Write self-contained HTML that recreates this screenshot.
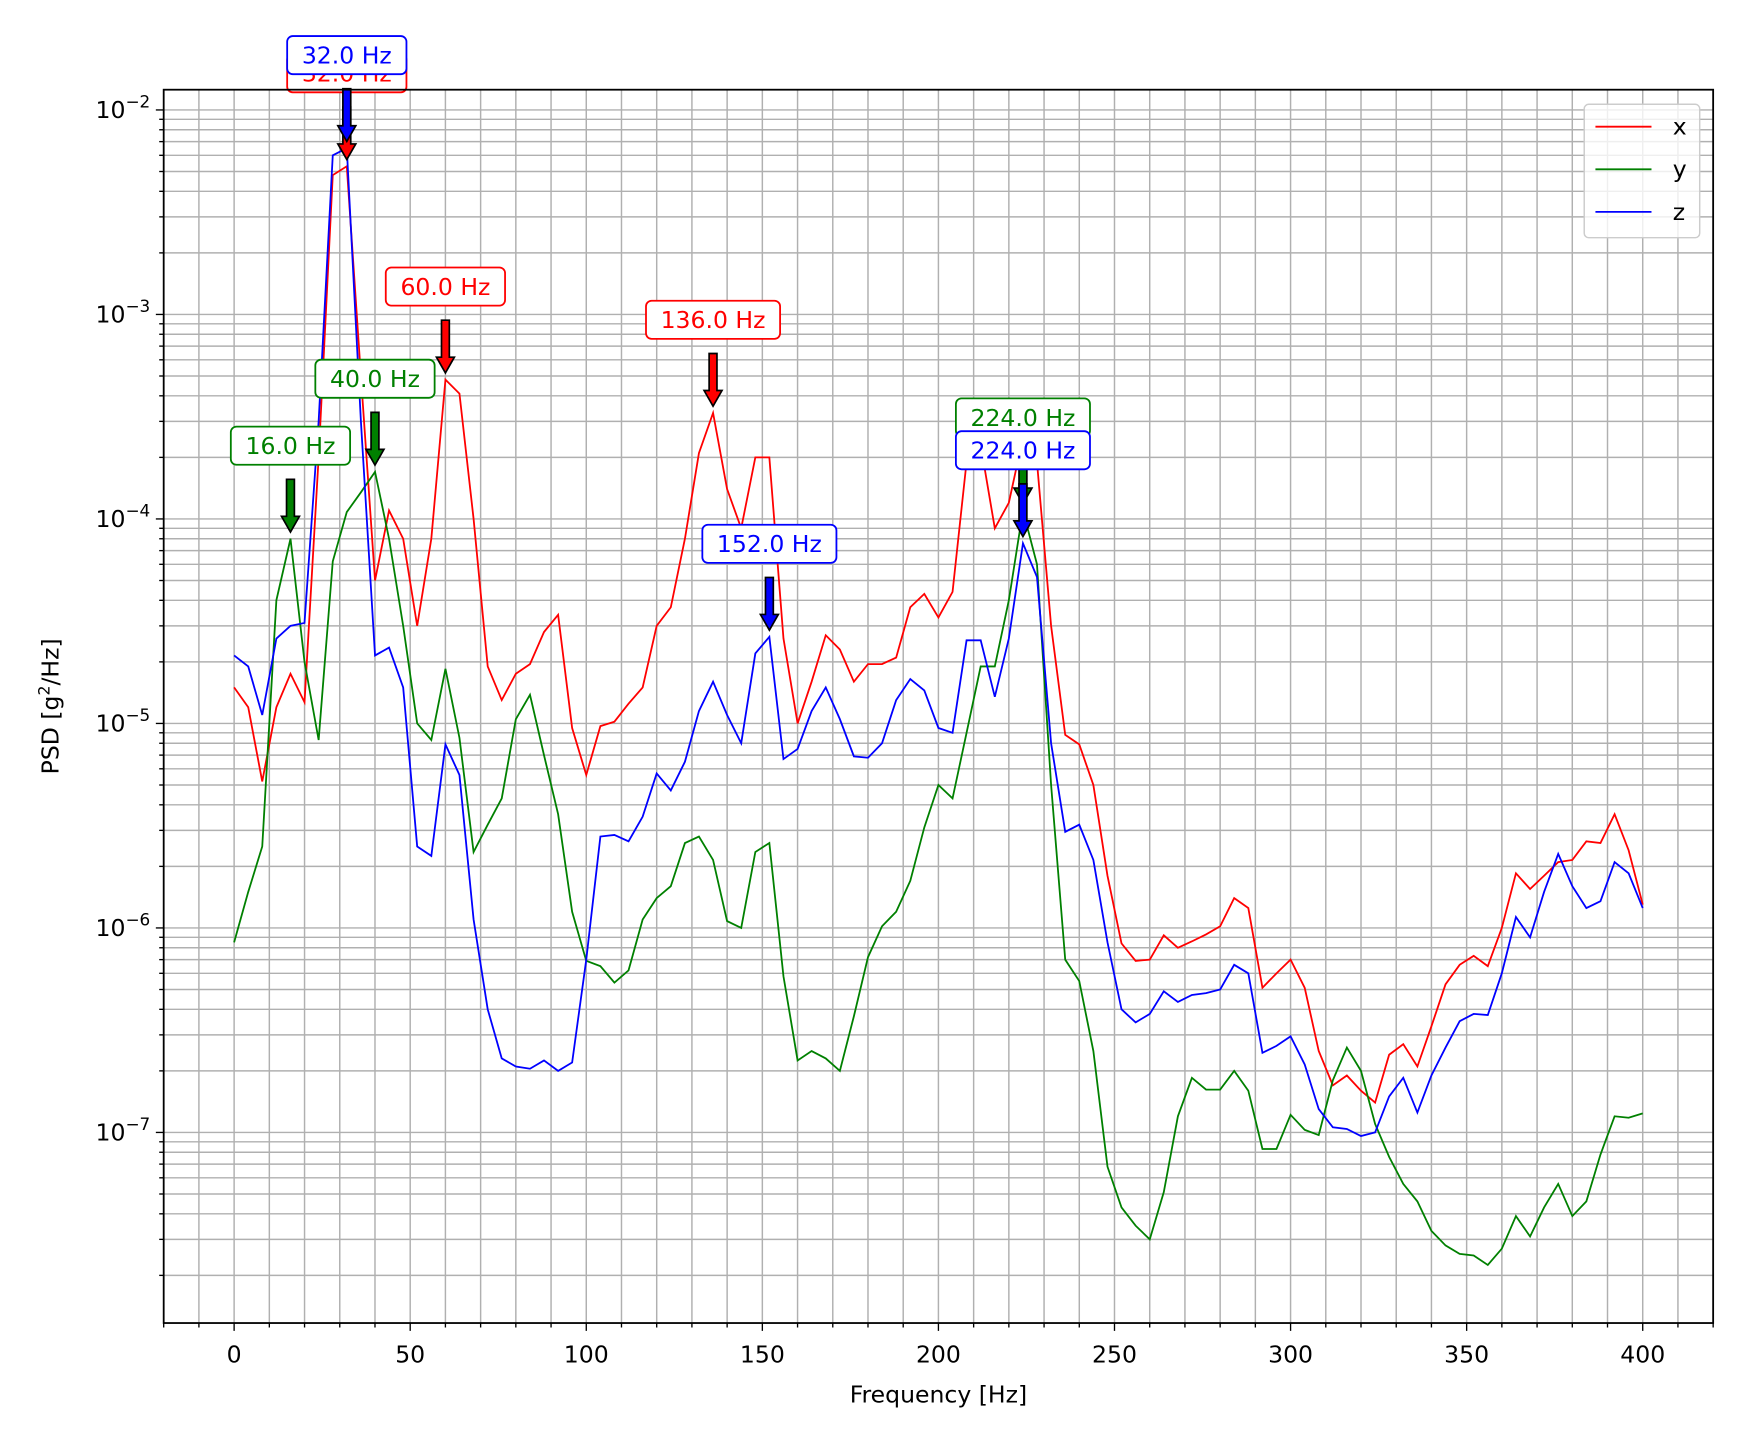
<!DOCTYPE html>
<html><head><meta charset="utf-8"><style>
html,body{margin:0;padding:0;background:#fff;}
svg{display:block;font-family:"DejaVu Sans","Liberation Sans",sans-serif;}
</style></head><body>
<svg id="chart" width="1758" height="1443" viewBox="0 0 1568 1287" preserveAspectRatio="none" xmlns="http://www.w3.org/2000/svg">
<rect x="0" y="0" width="1568" height="1287" fill="#fff"/>
<g id="grid"></g>
<g id="series"></g>
<g id="annots"></g>
<rect x="146" y="80" width="1382" height="1100" fill="none" stroke="#000" stroke-width="1.6"/>
<g id="ticks"></g>
<text x="837" y="1251" font-size="21" text-anchor="middle">Frequency [Hz]</text>
<text transform="translate(52,630) rotate(-90)" font-size="21" text-anchor="middle">PSD [g<tspan baseline-shift="super" font-size="14">2</tspan>/Hz]</text>
<g>
<rect x="1413" y="93" width="103" height="119" rx="4" fill="#fff" fill-opacity="0.8" stroke="#ccc" stroke-width="1.3"/>
<line x1="1423" y1="113" x2="1473" y2="113" stroke="red" stroke-width="1.6"/>
<text x="1492" y="120" font-size="21">x</text>
<line x1="1423" y1="151" x2="1473" y2="151" stroke="green" stroke-width="1.6"/>
<text x="1492" y="158" font-size="21">y</text>
<line x1="1423" y1="189" x2="1473" y2="189" stroke="blue" stroke-width="1.6"/>
<text x="1492" y="196" font-size="21">z</text>
</g>
</svg>
<script>
const freqs = Array.from({length:101},(_, i)=>i*4);
const xVals = [1.5e-5,1.2e-5,5.2e-6,1.2e-5,1.75e-5,1.27e-5,2e-4,4.8e-3,5.3e-3,5e-4,5e-5,1.1e-4,8e-5,3e-5,8e-5,4.8e-4,4.1e-4,1e-4,1.9e-5,1.3e-5,1.75e-5,1.95e-5,2.8e-5,3.4e-5,9.5e-6,5.6e-6,9.7e-6,1.02e-5,1.25e-5,1.5e-5,3e-5,3.7e-5,8e-5,2.1e-4,3.3e-4,1.4e-4,9e-5,2e-4,2e-4,2.6e-5,1e-5,1.6e-5,2.7e-5,2.3e-5,1.6e-5,1.95e-5,1.95e-5,2.1e-5,3.7e-5,4.3e-5,3.3e-5,4.4e-5,1.9e-4,2.3e-4,9e-5,1.2e-4,2.5e-4,1.9e-4,3e-5,8.8e-6,7.9e-6,5e-6,1.8e-6,8.4e-7,6.9e-7,7e-7,9.2e-7,8e-7,8.6e-7,9.3e-7,1.02e-6,1.4e-6,1.25e-6,5.1e-7,6e-7,7e-7,5.1e-7,2.5e-7,1.7e-7,1.9e-7,1.6e-7,1.4e-7,2.4e-7,2.7e-7,2.1e-7,3.3e-7,5.3e-7,6.6e-7,7.3e-7,6.5e-7,1e-6,1.85e-6,1.55e-6,1.8e-6,2.1e-6,2.15e-6,2.65e-6,2.6e-6,3.6e-6,2.4e-6,1.3e-6];
const yVals = [8.5e-7,1.5e-6,2.5e-6,4e-5,8e-5,2e-5,8.3e-6,6.2e-5,1.08e-4,1.35e-4,1.7e-4,8e-5,3e-5,1e-5,8.3e-6,1.85e-5,8.5e-6,2.35e-6,3.2e-6,4.3e-6,1.05e-5,1.38e-5,7e-6,3.6e-6,1.2e-6,6.9e-7,6.5e-7,5.4e-7,6.2e-7,1.1e-6,1.4e-6,1.6e-6,2.6e-6,2.8e-6,2.15e-6,1.08e-6,1e-6,2.35e-6,2.6e-6,5.8e-7,2.25e-7,2.5e-7,2.3e-7,2e-7,3.7e-7,7.2e-7,1.02e-6,1.2e-6,1.7e-6,3.1e-6,5e-6,4.3e-6,9e-6,1.9e-5,1.9e-5,4e-5,1.1e-4,6e-5,5e-6,7e-7,5.5e-7,2.5e-7,6.8e-8,4.3e-8,3.5e-8,3e-8,5.1e-8,1.2e-7,1.85e-7,1.62e-7,1.62e-7,2e-7,1.6e-7,8.3e-8,8.3e-8,1.22e-7,1.03e-7,9.7e-8,1.8e-7,2.6e-7,2e-7,1.1e-7,7.6e-8,5.6e-8,4.6e-8,3.3e-8,2.8e-8,2.55e-8,2.5e-8,2.25e-8,2.7e-8,3.9e-8,3.1e-8,4.3e-8,5.6e-8,3.9e-8,4.6e-8,7.8e-8,1.2e-7,1.18e-7,1.24e-7];
const zVals = [2.15e-5,1.9e-5,1.1e-5,2.6e-5,3e-5,3.1e-5,3e-4,6e-3,6.5e-3,3e-4,2.15e-5,2.35e-5,1.5e-5,2.5e-6,2.25e-6,7.9e-6,5.6e-6,1.1e-6,4e-7,2.3e-7,2.1e-7,2.05e-7,2.25e-7,2e-7,2.2e-7,7e-7,2.8e-6,2.85e-6,2.65e-6,3.5e-6,5.7e-6,4.7e-6,6.5e-6,1.15e-5,1.6e-5,1.1e-5,8e-6,2.2e-5,2.65e-5,6.7e-6,7.5e-6,1.15e-5,1.5e-5,1.05e-5,6.9e-6,6.8e-6,8e-6,1.3e-5,1.65e-5,1.45e-5,9.5e-6,9e-6,2.55e-5,2.55e-5,1.35e-5,2.6e-5,7.6e-5,5.2e-5,8e-6,2.95e-6,3.2e-6,2.15e-6,8.5e-7,4e-7,3.45e-7,3.8e-7,4.9e-7,4.35e-7,4.7e-7,4.8e-7,5e-7,6.6e-7,6e-7,2.45e-7,2.65e-7,2.95e-7,2.15e-7,1.3e-7,1.06e-7,1.04e-7,9.6e-8,1e-7,1.5e-7,1.85e-7,1.25e-7,1.9e-7,2.6e-7,3.5e-7,3.8e-7,3.75e-7,6e-7,1.13e-6,9e-7,1.5e-6,2.3e-6,1.6e-6,1.25e-6,1.35e-6,2.1e-6,1.85e-6,1.25e-6];
const xPeaks = [32,60,136];
const yPeaks = [16,40,224];
const zPeaks = [32,152,224];
const xTickLabels = [0,50,100,150,200,250,300,350,400];
const yTickExps = [-7,-6,-5,-4,-3,-2];

const NS="http://www.w3.org/2000/svg";
const L=146,R=1528,T=80,B=1180;
const xMin=-20,xMax=420;
const ly0=-7.932,ly1=-1.901;
function X(f){return L+(f-xMin)/(xMax-xMin)*(R-L);}
function Y(v){return B-(Math.log10(v)-ly0)/(ly1-ly0)*(B-T);}
function mk(tag,attrs,parent){const e=document.createElementNS(NS,tag);for(const k in attrs)e.setAttribute(k,attrs[k]);parent.appendChild(e);return e;}
const grid=document.getElementById('grid'),ticks=document.getElementById('ticks');
for(let f=-20;f<=420;f+=10){
  const x=X(f);
  const g=mk('line',{x1:x,y1:T,x2:x,y2:B,stroke:'#b0b0b0','stroke-width':1.3},grid);
  
  
  const major=f%50===0&&f>=0&&f<=400;
  const t=mk('line',{x1:x,y1:B,x2:x,y2:B+(major?7:4),stroke:'#000','stroke-width':1.2},ticks);
  
  
}
xTickLabels.forEach(v=>{
  const t=mk('text',{x:X(v),y:B+35,'font-size':21,'text-anchor':'middle'},ticks);
  t.textContent=v;
  
  
});
for(let e=-9;e<=-2;e++){
  for(let m=1;m<=9;m++){
    const v=m*Math.pow(10,e);const y=Y(v);
    if(y<T-0.5||y>B+0.5)continue;
    const g=mk('line',{x1:L,y1:y,x2:R,y2:y,stroke:'#b0b0b0','stroke-width':1.3},grid);
    
    
    const t=mk('line',{x1:L,y1:y,x2:L-(m===1?7:4),y2:y,stroke:'#000','stroke-width':1.2},ticks);
    
    
  }
}
yTickExps.forEach(e=>{
  const y=Y(Math.pow(10,e));
  const t=mk('text',{x:L-12,y:y+7,'font-size':21,'text-anchor':'end'},ticks);
  t.innerHTML='10<tspan dy="-9" font-size="15">\u2212'+(-e)+'</tspan>';
  
  
});
const seriesG=document.getElementById('series');
const defs=[['x',xVals,'red',xPeaks],['y',yVals,'green',yPeaks],['z',zVals,'blue',zPeaks]];
defs.forEach(([n,vals,col])=>{
  const d=vals.map((v,i)=>(i?'L':'M')+X(freqs[i]).toFixed(1)+','+Y(v).toFixed(1)).join(' ');
  const p=mk('path',{d:d,fill:'none',stroke:col,'stroke-width':1.6,'stroke-linejoin':'miter'},seriesG);
  
  
});
const an=document.getElementById('annots');
defs.forEach(([n,vals,col,peaks])=>{
  peaks.forEach(f=>{
    const i=freqs.indexOf(f);const px=X(f),py=Y(vals[i]);
    const g=mk('g',{},an);
    
    
    const tip=py-6,top=py-53;
    const sw=3.5,hw=8,hl=14;
    mk('path',{d:`M${px-sw},${top} L${px+sw},${top} L${px+sw},${tip-hl} L${px+hw},${tip-hl} L${px},${tip} L${px-hw},${tip-hl} L${px-sw},${tip-hl} Z`,fill:col,stroke:'#000','stroke-width':1.5},g);
    const label=f.toFixed(1)+' Hz';
    const w=label.length*13.2+14,h=34,cy=py-83;
    mk('rect',{x:px-w/2,y:cy-h/2,width:w,height:h,rx:5,fill:'#fff',stroke:col,'stroke-width':1.6},g);
    const t=mk('text',{x:px,y:cy+7.5,'font-size':21,'text-anchor':'middle',fill:col},g);
    t.textContent=label;
  });
});
</script>
</body></html>
